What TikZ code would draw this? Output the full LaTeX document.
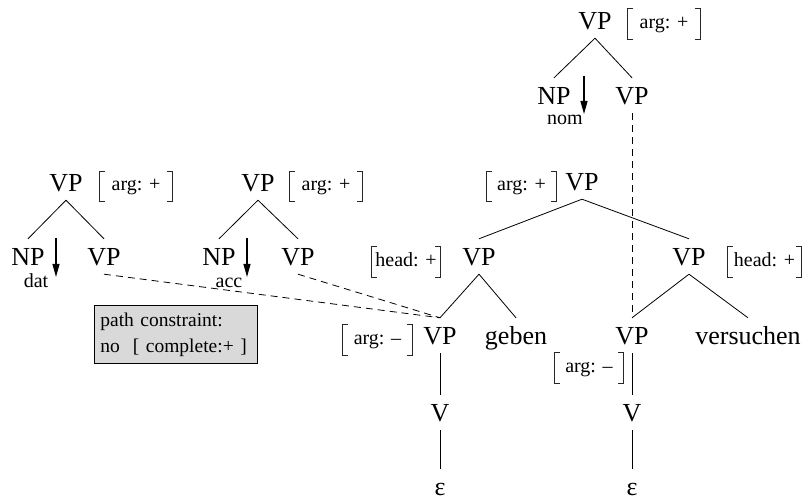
\documentclass[tikz,border=0pt]{standalone}
\usepackage{fontspec}
\setmainfont{Liberation Serif}
\usetikzlibrary{arrows.meta}
\newcommand\avmbr[1]{%
  \draw[brk] ([xshift=5pt]#1.north west) -- (#1.north west) -- (#1.south west) -- ([xshift=5pt]#1.south west);
  \draw[brk] ([xshift=-5pt]#1.north east) -- (#1.north east) -- (#1.south east) -- ([xshift=-5pt]#1.south east);}
\begin{document}
\begin{tikzpicture}[x=1pt,y=-1pt,
  cat/.style={anchor=base,font=\fontsize{26}{26}\selectfont,text height=24pt,text depth=5pt,inner sep=3pt},
  leaf/.style={anchor=base,font=\fontsize{26}{26}\selectfont,text height=27pt,text depth=0pt,inner sep=0pt},
  sub/.style={anchor=base,font=\fontsize{20}{20}\selectfont,inner sep=0pt},
  avm/.style={font=\fontsize{20}{20}\selectfont,text height=13pt,text depth=4pt,minimum height=30pt,inner sep=0pt},
  brk/.style={line width=0.8pt,black!85},
  edge/.style={line width=0.8pt},
  dashlink/.style={line width=0.8pt,dash pattern=on 7pt off 5pt},
  downarr/.style={line width=1.2pt,-{Triangle[length=13pt,width=7pt]}},
  pcbox/.style={draw,line width=0.8pt,fill=black!15,anchor=north west,font=\fontsize{19.5}{26}\selectfont,align=left,text width=151pt,inner xsep=6pt,minimum height=58pt}
]
\useasboundingbox (0,0) rectangle (804,502);

% top tree
\node[cat] (t) at (595,30) {VP};
\node[avm,minimum width=72pt] (bt) at (664,24) {arg: +};
\node[cat] (tnp) at (554,105) {NP};
\node[cat] (tvp) at (632,105) {VP};
\node[sub] (nom) at (565,125) {nom};
\coordinate (ta1) at (584,76);
\coordinate (ta2) at (584,114);

% left tree 1
\node[cat] (a) at (66,192) {VP};
\node[avm,minimum width=72pt] (ba) at (136,186.5) {arg: +};
\node[cat] (anp) at (28,266) {NP};
\node[cat] (avp) at (104,266) {VP};
\node[sub] (dat) at (36,288) {dat};
\coordinate (aa1) at (56,238);
\coordinate (aa2) at (56,277);

% left tree 2
\node[cat] (b) at (258,192) {VP};
\node[avm,minimum width=72pt] (bb) at (326,186.5) {arg: +};
\node[cat] (bnp) at (219,266) {NP};
\node[cat] (bvp) at (298,266) {VP};
\node[sub] (acc) at (229,288) {acc};
\coordinate (ba1) at (247,238);
\coordinate (ba2) at (247,277);

% main tree
\node[cat] (m) at (582,191) {VP};
\node[avm,minimum width=69pt] (bm) at (521.5,186.5) {arg: +};
\node[cat] (hl) at (479,266) {VP};
\node[avm,minimum width=68pt] (bhl) at (406,262) {head: +};
\node[cat] (hr) at (689,266) {VP};
\node[avm,minimum width=73pt] (bhr) at (764.5,262) {head: +};
\node[cat] (g) at (440,345) {VP};
\node[avm,minimum width=69pt] (bg) at (377.5,340) {arg: –};
\node[cat] (geben) at (516,345) {geben};
\node[cat] (vs) at (632,345) {VP};
\node[cat] (versuchen) at (748,345) {versuchen};
\node[avm,minimum width=68pt] (bvs) at (589,368) {arg: –};
\node[cat] (v1) at (440,422) {V};
\node[cat] (v2) at (632,422) {V};
\node[leaf] (e1) at (440,496) {ε};
\node[leaf] (e2) at (632,496) {ε};

% path constraint box
\node[pcbox] (pc) at (94,305) {path constraint:\\no\ \ [ complete:+ ]};

% brackets
\avmbr{bt}
\avmbr{ba}
\avmbr{bb}
\avmbr{bm}
\avmbr{bhl}
\avmbr{bhr}
\avmbr{bg}
\avmbr{bvs}

% edges
\draw[edge] (t.south) -- (tnp.north);
\draw[edge] (t.south) -- (tvp.north);
\draw[edge] (a.south) -- (anp.north);
\draw[edge] (a.south) -- (avp.north);
\draw[edge] (b.south) -- (bnp.north);
\draw[edge] (b.south) -- (bvp.north);
\draw[edge] (m.south) -- (hl.north);
\draw[edge] (m.south) -- (hr.north);
\draw[edge] (hl.south) -- (g.north);
\draw[edge] (hl.south) -- (geben.north);
\draw[edge] (hr.south) -- (vs.north);
\draw[edge] (hr.south) -- (versuchen.north);
\draw[edge] (g.south) -- (v1.north);
\draw[edge] (v1.south) -- (e1.north);
\draw[edge] (vs.south) -- (v2.north);
\draw[edge] (v2.south) -- (e2.north);

% dashed links
\draw[dashlink] (tvp.south) -- (vs.north);
\draw[dashlink] (avp.south) -- (g.north);
\draw[dashlink] (bvp.south) -- (g.north);

% arrows
\draw[downarr] (ta1) -- (ta2);
\draw[downarr] (aa1) -- (aa2);
\draw[downarr] (ba1) -- (ba2);
\end{tikzpicture}
\end{document}
